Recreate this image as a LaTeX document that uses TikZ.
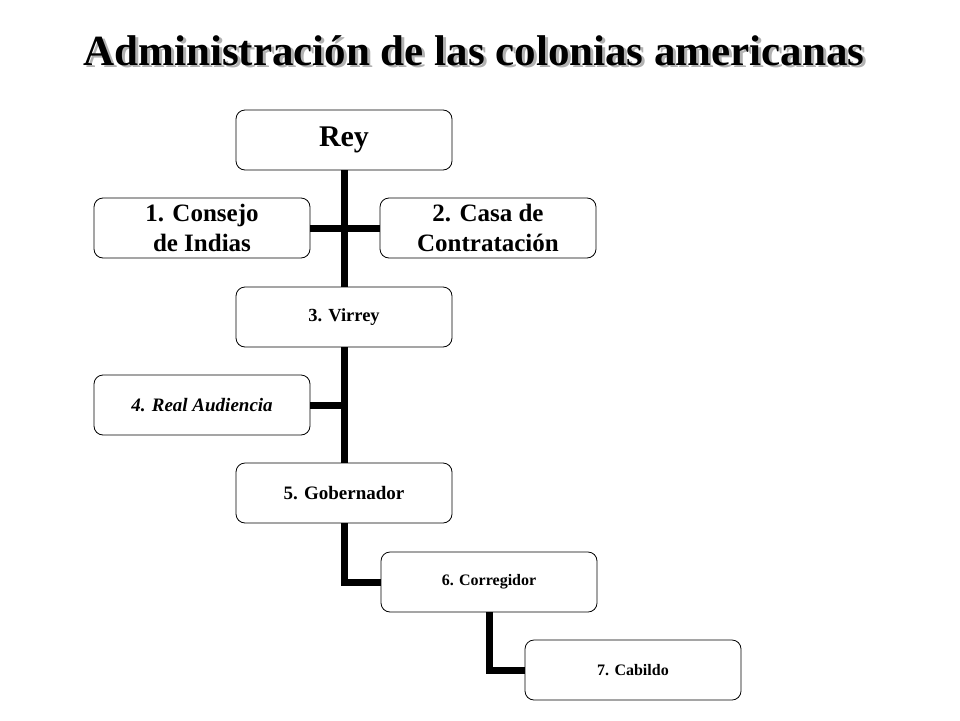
\documentclass[tikz,border=0pt]{standalone}
\usepackage{fontspec}
\setmainfont{Liberation Serif}
\begin{document}
\begin{tikzpicture}[x=1pt,y=-1pt,
  box/.style={draw, rounded corners=9pt, minimum width=216pt, minimum height=60pt,
    line width=0.8pt, inner sep=0pt, align=center},
  link/.style={line width=7pt},
  ttl/.style={font=\bfseries\fontsize{43}{50}\selectfont, anchor=base}]
\useasboundingbox (0,0) rectangle (960,720);
% title with shadow
\node[ttl, text=black!30] (tshadow) at (477,67) {Administración de las colonias americanas};
\node[ttl] (title) at (474,65) {Administración de las colonias americanas};
% boxes
\node[box, font=\bfseries\fontsize{30}{34}\selectfont] (rey) at (344,140) {\raisebox{-2pt}{Rey}};
\node[box, font=\bfseries\fontsize{25}{30}\selectfont] (cons) at (202,228) {1. Consejo\\de Indias};
\node[box, font=\bfseries\fontsize{25}{30}\selectfont] (casa) at (488,228) {2. Casa de\\Contratación};
\node[box, font=\bfseries\fontsize{18.5}{22}\selectfont] (vir) at (344,317) {3. Virrey};
\node[box, font=\bfseries\itshape\fontsize{19}{22}\selectfont] (aud) at (202,405) {4. Real Audiencia};
\node[box, font=\bfseries\fontsize{19}{22}\selectfont] (gob) at (344,493) {5. Gobernador};
\node[box, font=\bfseries\fontsize{16}{20}\selectfont] (corr) at (489,582) {6. Corregidor};
\node[box, font=\bfseries\fontsize{16}{20}\selectfont] (cab) at (633,670) {7. Cabildo};
% connectors
\draw[link] (rey.south) -- (vir.north);
\draw[link] (cons.east) -- (casa.west);
\draw[link] (vir.south) -- (gob.north);
\draw[link] (aud.east) -- (aud.east -| vir.south);
\draw[link] (gob.south) |- (corr.west);
\draw[link] (corr.south) |- (cab.west);
\end{tikzpicture}
\end{document}
